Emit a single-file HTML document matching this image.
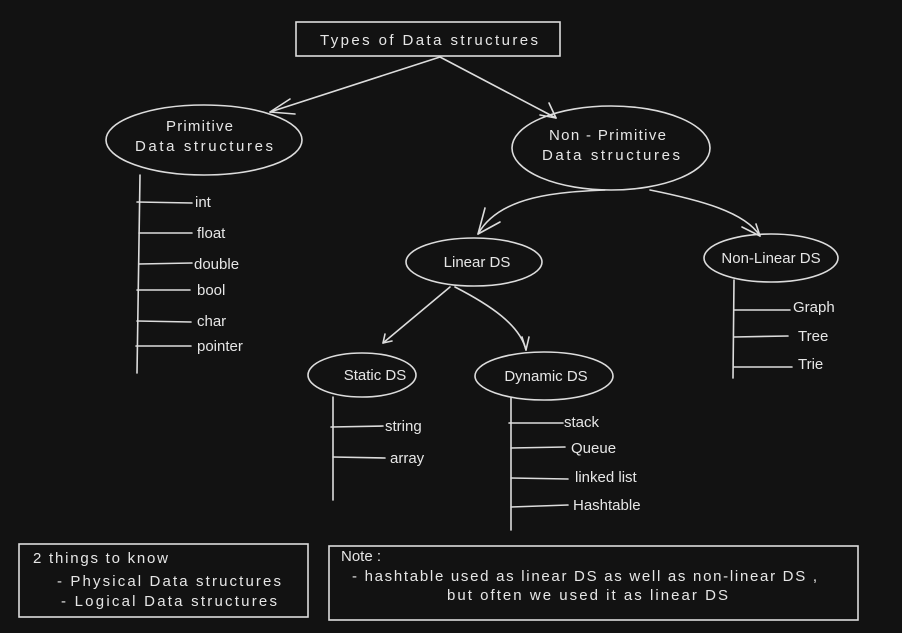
<!DOCTYPE html>
<html><head><meta charset="utf-8">
<style>
html,body{margin:0;padding:0;background:#121212;}
svg{display:block;}
text{font-family:"Liberation Sans",sans-serif;fill:#e6e6e6;font-size:15px;}
</style></head>
<body>
<svg width="902" height="633" viewBox="0 0 902 633" xmlns="http://www.w3.org/2000/svg">
<rect width="902" height="633" fill="#121212"/>
<g stroke="#dcdcdc" stroke-width="1.6" fill="none" stroke-linecap="round">
  <rect x="296" y="22" width="264" height="34"/>
  <ellipse cx="204" cy="140" rx="98" ry="35"/>
  <ellipse cx="611" cy="148" rx="99" ry="42"/>
  <ellipse cx="474" cy="262" rx="68" ry="24"/>
  <ellipse cx="771" cy="258" rx="67" ry="24"/>
  <ellipse cx="362" cy="375" rx="54" ry="22"/>
  <ellipse cx="544" cy="376" rx="69" ry="24"/>
  <path d="M440 57 L270 112"/><path d="M270 112 L290 99 M270 112 L295 114"/>
  <path d="M440 57 L556 118"/><path d="M556 118 L540 115 M556 118 L549 103"/>
  <path d="M605 190 C560 192 500 195 478 234"/><path d="M478 234 L485 208 M478 234 L500 222"/>
  <path d="M650 190 C700 200 745 212 760 236"/><path d="M760 236 L756 224 M760 236 L742 227"/>
  <path d="M450 287 L383 343"/><path d="M383 343 L385 334 M383 343 L392 341"/>
  <path d="M455 287 C490 305 520 325 526 350"/><path d="M526 350 L522 337 M526 350 L529 337"/>
  <path d="M140 175 L137 373"/>
  <path d="M137 202 L192 203 M139 233 L192 233 M139 264 L192 263 M137 290 L190 290 M137 321 L191 322 M136 346 L191 346"/>
  <path d="M333 397 L333 500"/>
  <path d="M331 427 L383 426 M333 457 L385 458"/>
  <path d="M511 398 L511 530"/>
  <path d="M509 423 L563 423 M511 448 L565 447 M511 478 L568 479 M511 507 L568 505"/>
  <path d="M734 280 L733 378"/>
  <path d="M734 310 L790 310 M734 337 L788 336 M734 367 L792 367"/>
  <rect x="19" y="544" width="289" height="73"/>
  <rect x="329" y="546" width="529" height="74"/>
</g>
<text x="320" y="45" font-size="16" textLength="218">Types of Data structures</text>
<text x="166" y="131" textLength="67">Primitive</text>
<text x="135" y="151" textLength="138">Data structures</text>
<text x="549" y="140" textLength="117">Non - Primitive</text>
<text x="542" y="160" textLength="138">Data structures</text>
<text x="477" y="267" text-anchor="middle" font-size="14">Linear DS</text>
<text x="771" y="263" text-anchor="middle" font-size="14">Non-Linear DS</text>
<text x="375" y="380" text-anchor="middle" font-size="14">Static DS</text>
<text x="546" y="381" text-anchor="middle" font-size="14">Dynamic DS</text>
<g font-size="14">
<text x="195" y="207">int</text>
<text x="197" y="238">float</text>
<text x="194" y="269">double</text>
<text x="197" y="295">bool</text>
<text x="197" y="326">char</text>
<text x="197" y="351">pointer</text>
<text x="385" y="431">string</text>
<text x="390" y="463">array</text>
<text x="564" y="427">stack</text>
<text x="571" y="453">Queue</text>
<text x="575" y="482">linked list</text>
<text x="573" y="510">Hashtable</text>
<text x="793" y="312">Graph</text>
<text x="798" y="341">Tree</text>
<text x="798" y="369">Trie</text>
<text x="33" y="563" textLength="135">2 things to know</text>
<text x="57" y="586" textLength="224">- Physical Data structures</text>
<text x="61" y="606" textLength="216">- Logical Data structures</text>
<text x="341" y="561">Note :</text>
<text x="352" y="581" textLength="465">- hashtable used as linear DS as well as non-linear DS ,</text>
<text x="447" y="600" textLength="281">but often we used it as linear DS</text>
</g>
</svg>
</body></html>
